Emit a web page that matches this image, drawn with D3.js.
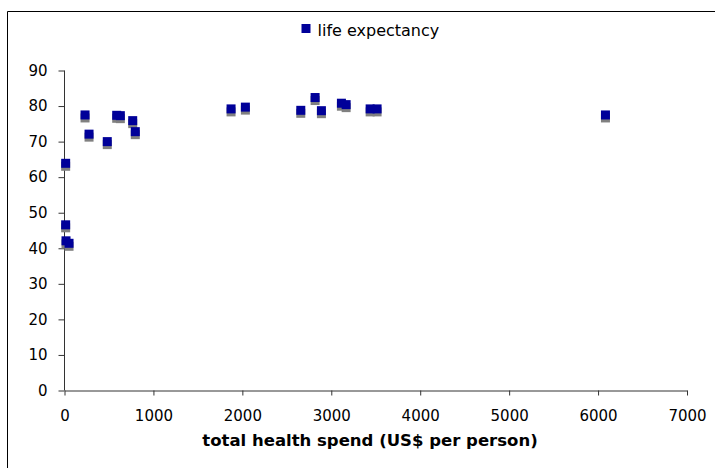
<!DOCTYPE html>
<html>
<head>
<meta charset="utf-8">
<script src="https://cdn.jsdelivr.net/npm/d3@7"></script>
<style>
  html, body { margin: 0; padding: 0; background: #fff; }
  svg { display: block; }
  text { font-family: "DejaVu Sans", Verdana, sans-serif; fill: #000; }
</style>
</head>
<body>
<svg id="chart" width="715" height="468"></svg>
<script>
// Data
const seriesName = "life expectancy";
const spend = [13, 13, 17, 51, 231, 276, 481, 587, 628, 767, 796, 1873, 2034, 2657, 2818, 2889, 3114, 3167, 3437, 3515, 6083];
const lifeExpectancy = [63.9, 46.6, 42.1, 41.4, 77.5, 72.1, 70.0, 77.4, 77.3, 75.9, 72.8, 79.2, 79.7, 78.8, 82.4, 78.7, 80.8, 80.4, 79.2, 79.2, 77.5];
const xTicks = [0, 1000, 2000, 3000, 4000, 5000, 6000, 7000];
const yTicks = [0, 10, 20, 30, 40, 50, 60, 70, 80, 90];
const xTitle = "total health spend (US$ per person)";

const svg = d3.select("#chart");

// outer chart border (only top and left edges visible in frame)
svg.append("line").attr("x1", 7.5).attr("x2", 715).attr("y1", 11.5).attr("y2", 11.5)
  .attr("stroke", "#000").attr("stroke-width", 1);
svg.append("line").attr("x1", 7.5).attr("x2", 7.5).attr("y1", 11.5).attr("y2", 468)
  .attr("stroke", "#000").attr("stroke-width", 1);

const x = d3.scaleLinear().domain([0, 7000]).range([64.5, 687]);
const y = d3.scaleLinear().domain([0, 90]).range([390.5, 70.5]);

// axes
const xAxis = svg.append("g").attr("transform", `translate(0,${y(0)})`)
  .call(d3.axisBottom(x).tickValues(xTicks).tickFormat(d3.format("d"))
    .tickSize(5).tickPadding(15).tickSizeOuter(0));
const yAxis = svg.append("g").attr("transform", `translate(${x(0)},0)`)
  .call(d3.axisLeft(y).tickValues(yTicks).tickFormat(d3.format("d"))
    .tickSize(6).tickPadding(11).tickSizeOuter(0));

[xAxis, yAxis].forEach(a => {
  a.select(".domain").attr("stroke", "#333");
  a.selectAll(".tick line").attr("stroke", "#333");
  a.selectAll(".tick text").style("font-family", '"DejaVu Sans", Verdana, sans-serif')
    .style("font-size", "15px").attr("fill", "#000");
});
yAxis.select(".domain").attr("d", `M0,${y(0)}V${y(90)}`);

// markers (grey drop shadow, then blue square)
const pts = spend.map((s, i) => ({ s, v: lifeExpectancy[i] }));
const m = 9;
svg.append("g").selectAll("rect").data(pts).join("rect")
  .attr("x", d => x(d.s) - m / 2)
  .attr("y", d => y(d.v) - m / 2 + 3)
  .attr("width", m).attr("height", m)
  .attr("fill", "#808080");
svg.append("g").selectAll("rect").data(pts).join("rect")
  .attr("x", d => x(d.s) - m / 2)
  .attr("y", d => y(d.v) - m / 2)
  .attr("width", m).attr("height", m)
  .attr("fill", "#000099");

// legend
svg.append("rect").attr("x", 301.5).attr("y", 24).attr("width", 9).attr("height", 9).attr("fill", "#000099");
svg.append("text").attr("x", 317.5).attr("y", 36).style("font-size", "16px").text(seriesName);

// axis title
svg.append("text").attr("x", 370).attr("y", 446).attr("text-anchor", "middle")
  .style("font-size", "16.5px").style("font-weight", "bold").text(xTitle);
</script>
</body>
</html>
